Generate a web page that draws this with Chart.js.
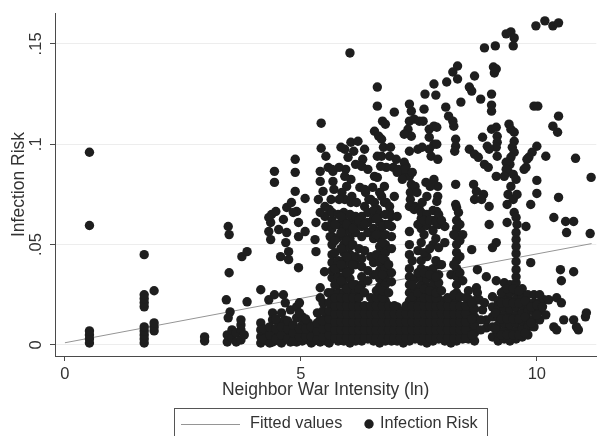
<!DOCTYPE html>
<html>
<head>
<meta charset="utf-8">
<script src="https://cdn.jsdelivr.net/npm/chart.js@4/dist/chart.umd.min.js"></script>
<style>html,body{margin:0;padding:0;background:#fff}canvas{display:block}</style>
</head>
<body>
<canvas id="c" width="601" height="436"></canvas>
<script>
// ---- tick labels ----
const xTicks = [0, 5, 10];
const xTickLabels = ['0', '5', '10'];
const yTicks = [0, 0.05, 0.1, 0.15];
const yTickLabels = ['0', '.05', '.1', '.15'];

// ---- fitted values (read at both ends of the drawn line) ----
const fitX = [0.0, 11.16];
const fitY = [0.0011, 0.0505];

// ---- Infection Risk: individually read points [ln intensity, risk] ----
const loosePoints = [
 [0.52,.001],[0.52,.003],[0.52,.005],[0.52,.007],[0.52,.0595],[0.52,.096],
 [1.68,.001],[1.68,.003],[1.68,.005],[1.68,.007],[1.68,.009],[1.68,.019],[1.68,.021],[1.68,.023],[1.68,.025],[1.68,.045],
 [1.89,.007],[1.89,.009],[1.89,.011],[1.89,.027],
 [2.96,.002],[2.96,.004],
 [3.42,.0225],[3.46,.059],[3.48,.055],[3.48,.036],[3.5,.0165],[3.46,.0135],
 [3.44,.0015],[3.44,.005],[3.54,.0035],[3.54,.0075],[3.63,.0015],[3.63,.006],[3.73,.0025],[3.73,.0075],[3.73,.01],[3.73,.0125],[3.8,.005],
 [3.75,.044],[3.86,.0465],[3.86,.0215],
 [4.32,.0225],[4.44,.025],[4.63,.025],[4.67,.021],[4.78,.0175],[4.95,.0385],[5.5,.0365],[5.58,.026],
 [4.38,.065],[4.36,.061],[4.32,.0565],[4.36,.0525],[4.53,.0575],[4.63,.0625],[4.7,.056],[4.68,.051],[4.74,.0465],[4.74,.0425],[4.57,.044],
 [4.95,.061],[4.95,.054],[5.09,.0565],[4.91,.0665],[5.32,.061],[5.3,.0525],[5.32,.0465],[5.51,.064],[5.53,.059],[5.62,.054],
 [4.44,.0865],[4.44,.081],[4.88,.0925],[4.88,.086],[4.88,.0765],[5.09,.073],[4.47,.0665],[4.7,.0685],[4.8,.071],[4.84,.066],[4.32,.0635],
 [5.41,.0865],[5.41,.0815],[5.47,.0765],[5.53,.094],[5.58,.0885],[5.68,.0865],[5.68,.0815],[5.43,.1105],[5.43,.098],
 [5.37,.0725],[5.51,.069],[5.41,.066],[5.64,.0725],[5.6,.0675],
 [5.93,.0725],[6.06,.071],[6.35,.069],[6.48,.0725],[6.62,.0675],[6.77,.071],[6.88,.066],
 [6.04,.1455],[6.62,.1285],[6.62,.119],[6.98,.116],[6.73,.1115],[6.79,.11],[6.56,.1065],[6.65,.104],[6.71,.1025],[6.75,.0985],[6.71,.094],
 [6.06,.101],[6.21,.1015],[5.93,.0975],[6.35,.0975],[6.12,.0965],[6.0,.0935],[6.31,.0925],[6.42,.0875],[6.16,.09],[5.95,.0875],
 [6.06,.0825],[6.25,.0785],[6.37,.076],[6.52,.0785],[5.85,.0985],[6.29,.089],[5.81,.0885],[5.66,.0875],
 [7.02,.0925],[6.96,.0885],[7.07,.0875],[7.23,.089],[6.81,.0885],
 [6.56,.084],[6.77,.079],[6.71,.074],[6.81,.071],[6.56,.071],[6.35,.0775],[6.44,.0725],
 [5.93,.084],[5.97,.079],[5.87,.076],[5.81,.0725],[5.7,.0775],[6.08,.074],[6.18,.071],
 [6.62,.094],[6.62,.0835],[6.69,.089],[6.88,.094],[6.9,.0985],[6.98,.074],[6.88,.069],[6.67,.076],
 [8.32,.139],[8.22,.136],[8.32,.1325],[8.09,.131],[7.82,.13],[7.86,.1245],[7.63,.125],[7.3,.12],[7.34,.1165],[7.61,.1175],[8.07,.1185],[8.39,.121],
 [8.57,.1285],[8.62,.1265],[8.68,.134],
 [7.3,.1115],[7.4,.1125],[7.51,.1115],[7.59,.1115],[7.27,.1075],[7.34,.104],[7.3,.0965],[7.48,.0975],
 [7.72,.1075],[7.82,.109],[7.72,.1035],[7.82,.1],[7.72,.0975],[7.76,.094],[7.9,.0925],[7.57,.0985],[7.88,.1085],[7.88,.1],[7.19,.105],
 [8.13,.114],[8.22,.1115],[8.24,.109],[8.28,.1025],[8.28,.099],[8.26,.0965],
 [7.17,.085],[7.3,.084],[7.34,.08],[7.32,.076],[7.32,.0725],[7.42,.069],[7.3,.069],
 [7.65,.081],[7.9,.079],[7.9,.074],[8.28,.08],[8.28,.07],
 [8.57,.0975],[8.68,.095],[8.76,.0935],[8.89,.09],[8.97,.0885],[9.14,.084],
 [8.66,.08],[8.72,.0765],[8.68,.0725],[8.87,.075],[8.83,.0725],[8.99,.069],
 [8.3,.0685],[8.34,.066],
 [7.19,.091],[7.21,.0875],[7.15,.0825],[7.36,.086],[7.42,.079],[7.46,.076],[7.4,.0675],[7.51,.0675],[7.57,.071],[7.67,.074],
 [7.74,.079],[7.82,.0825],[7.88,.0715],[7.88,.0665],[7.04,.086],
 [9.98,.159],[10.17,.1615],[10.34,.159],[10.46,.1605],
 [9.35,.155],[9.45,.156],[9.52,.153],[9.5,.149],
 [8.89,.148],[9.12,.149],
 [9.08,.1385],[9.1,.1355],[9.14,.1375],
 [9.04,.125],[9.04,.1195],[9.04,.1165],[8.81,.1225],
 [9.94,.119],[10.02,.119],
 [10.46,.114],[10.34,.109],[10.44,.106],
 [9.41,.11],[9.45,.1075],[9.52,.106],
 [9.04,.1075],[9.14,.1085],[9.16,.104],[9.16,.101],[9.14,.0985],[9.16,.094],
 [8.85,.1035],[8.95,.099],[8.99,.0975],
 [9.52,.1015],[9.48,.0985],[9.52,.096],[9.45,.0935],[9.43,.09],[9.39,.0865],[9.5,.085],[9.56,.0825],[9.45,.079],[9.39,.075],
 [9.5,.0725],[9.58,.075],[9.35,.091],[9.35,.0875],[9.31,.084],[9.37,.07],
 [10.0,.099],[9.9,.096],[9.83,.0935],[9.79,.0925],[9.77,.0885],[10.19,.094],[10.82,.093],[11.15,.0835],
 [10.0,.082],[10.0,.0755],[10.46,.0735],[9.87,.07],[9.73,.0875],
 [10.36,.0635],[10.61,.0615],[10.78,.0615],[10.63,.056],[11.13,.0555],
 [9.52,.066],[9.56,.0635],[9.37,.061],[9.58,.06],[9.77,.059],
 [8.99,.06],[9.14,.051],[9.06,.0485],[8.62,.0475],
 [9.87,.041],[10.5,.0375],[10.78,.0365],[10.52,.032],
 [8.74,.0375],[8.93,.034],[9.14,.032],
 [8.72,.0285],[8.74,.026],[8.78,.0225],[8.89,.021],[8.85,.0175],
 [10.15,.0225],[10.25,.0225],[10.42,.0235],[10.52,.021],
 [10.36,.009],[10.42,.0075],[10.57,.0125],[10.78,.0125],[10.84,.009],[10.88,.0075],[11.03,.014],[11.05,.016],
 [8.93,.0125],[8.93,.0085]
];

// ---- Infection Risk: dense vertical strips (x of strip, risks read down the strip) ----
const stripX = [4.15,4.28,4.40,4.53,4.65,4.78,4.91,5.03,5.16,5.28,5.41,5.53,5.66,5.79,5.91,6.04,6.16,6.29,6.42,6.54,6.67,6.79,6.92,7.04,7.17,7.30,7.42,7.55,7.67,7.80,7.92,8.05,8.18,8.30,8.43,8.55,8.68,8.81,9.06,9.18,9.31,9.43,9.56,9.69,9.81,9.94,10.06,10.19];
const stripY = [
 [.001,.004,.0075,.011,.0275],
 [.002,.006],
 [.0015,.0035,.0075,.0125,.016],
 [.002,.006,.01],
 [.003,.0075,.0125],
 [.0015,.0055],
 [.0015,.0035,.0075,.0135,.019],
 [.002,.006,.01,.014],
 [.0025,.006,.011],
 [.002,.006],
 [.0015,.004,.009,.0125,.0235,.0285],
 [.002,.006,.01,.014],
 [.003,.007,.011,.015,.019,.023,.026,.0335,.037,.041,.045,.05,.054,.058,.062,.066],
 [.002,.006,.01,.014,.018,.022,.026,.03,.034,.038,.042,.0535,.06,.065],
 [.002,.006,.01,.014,.018,.022,.026,.03,.034,.038,.042,.046,.05,.054,.058,.062,.066],
 [.001,.005,.009,.013,.017,.021,.025,.029,.033,.037,.041,.045,.049,.053,.057,.061,.065],
 [.002,.006,.01,.014,.018,.022,.026,.03,.04,.044,.056,.06,.064],
 [.002,.006,.01,.014,.018,.03,.034,.039,.043,.054,.059,.064],
 [.003,.007,.011,.015,.019,.032,.037,.056,.061,.066],
 [.002,.006,.01,.014,.018,.022,.035,.041,.053,.058,.063,.067],
 [.001,.005,.009,.013,.017,.021,.025,.029,.033,.037,.041,.045,.049,.053,.057,.061,.065],
 [.002,.006,.01,.014,.018,.022,.026,.03,.034,.038,.042,.046,.05,.055,.06,.065],
 [.002,.006,.01,.014,.018,.0315,.036,.048,.054,.059,.064],
 [.002,.006,.01,.014,.019,.064],
 [.001,.005,.009,.013,.017],
 [.002,.006,.01,.014,.018,.022,.026,.03,.034,.038,.045,.05,.0565],
 [.003,.007,.011,.015,.019,.023,.028,.033],
 [.002,.006,.01,.014,.018,.022,.026,.03,.034,.038,.042,.051,.058,.063,.066],
 [.001,.005,.009,.013,.017,.021,.025,.029,.033,.037,.044,.0595,.065],
 [.002,.006,.01,.014,.018,.022,.026,.03,.034,.038,.05,.057,.062,.067],
 [.003,.007,.011,.015,.019,.023,.027,.031,.035,.04,.0485,.06,.065],
 [.002,.006,.01,.014,.018,.022,.051,.059],
 [.001,.005,.009,.013,.017,.021,.035],
 [.002,.006,.01,.014,.018,.022,.026,.03,.034,.038,.042,.046,.05,.054,.058,.062],
 [.003,.007,.011,.015,.019,.032,.055],
 [.003,.007,.011,.015,.019,.023,.027],
 [.002,.006,.01,.014,.018,.022],
 [.0075,.0125],
 [.004,.009,.014,.019,.024],
 [.002,.006,.01,.014,.018,.022],
 [.003,.007,.011,.015,.019,.023,.027,.031],
 [.002,.006,.01,.014,.018,.022,.026,.03],
 [.003,.007,.011,.015,.019,.023,.027,.031,.034,.0375,.0415,.0455,.049,.0525,.056],
 [.004,.008,.012,.016,.02,.024,.028],
 [.005,.009,.013,.017,.021,.025],
 [.009,.013,.017,.021,.025],
 [.0125,.017,.021,.025],
 [.015]
];

// ---- Infection Risk: in-between strips of the dense band ----
const fillX = [4.22,4.34,4.47,4.59,4.72,4.84,4.97,5.10,5.22,5.35,5.47,5.60,5.72,5.85,5.97,6.10,6.23,6.35,6.48,6.60,6.73,6.86,6.98,7.11,7.23,7.36,7.48,7.61,7.73,7.86,7.98,8.11,8.24,8.37,8.49,8.62,9.12,9.25,9.37,9.50,9.62,9.75,9.88,10.00,10.12];
const fillY = [
 [.003,.008],
 [.001,.005,.009],
 [.003,.008,.013],
 [.001,.005,.009,.016],
 [.003,.008,.012],
 [.002,.006,.01],
 [.004,.008,.016,.021],
 [.004,.008,.013],
 [.001,.004,.009],
 [.003,.007,.011,.016],
 [.004,.008,.012,.017,.021],
 [.001,.005,.009,.013,.017,.021],
 [.0035,.0075,.0115,.0155,.0195,.0235,.03,.038,.046,.052,.06],
 [.0035,.0075,.0115,.0155,.0195,.0235,.032,.04,.048,.056,.064],
 [.0035,.0075,.0115,.0155,.0195,.0235,.028,.036,.044,.052,.06],
 [.0035,.0075,.0115,.0155,.0195,.0235,.03,.04,.05,.058],
 [.0035,.0075,.0115,.0155,.0195,.0235,.028,.048,.062],
 [.0035,.0075,.0115,.0155,.0195,.026,.047,.06],
 [.0035,.0075,.0115,.0155,.0195,.0235,.044],
 [.0035,.0075,.0115,.0155,.0195,.0235,.027,.035,.045,.055,.063],
 [.0035,.0075,.0115,.0155,.0195,.0235,.027,.035,.043,.051,.059],
 [.0035,.0075,.0115,.0155,.0195,.026,.04,.06],
 [.0035,.0075,.0115,.0155,.0195],
 [.0035,.0075,.0115,.0155],
 [.0035,.0075,.0115,.0155,.0195],
 [.0035,.0075,.0115,.0155,.0195,.024,.03,.042],
 [.0035,.0075,.0115,.0155,.0195,.026,.036,.047,.06],
 [.0035,.0075,.0115,.0155,.0195,.0235,.028,.036,.046,.055,.062],
 [.0035,.0075,.0115,.0155,.0195,.0235,.027,.035,.048,.062],
 [.0035,.0075,.0115,.0155,.0195,.0235,.026,.034,.042,.053,.061],
 [.0035,.0075,.0115,.0155,.0195,.027,.04,.062],
 [.0035,.0075,.0115,.0155,.0195,.0235],
 [.0035,.0075,.0115,.0155,.0195,.025,.04,.055],
 [.0035,.0075,.0115,.0155,.0195,.024,.036,.044,.052,.06],
 [.0035,.0075,.0115,.0155,.0195,.0235],
 [.005,.013,.021],
 [.008,.016],
 [.005,.013,.021,.026],
 [.005,.013,.021,.028],
 [.005,.013,.021,.028],
 [.005,.013,.021,.027],
 [.006,.014,.022],
 [.011,.019],
 [.015,.02],
 [.019]
];

// ---- build datasets from the arrays ----
const riskPoints = loosePoints.map(p => ({x: p[0], y: p[1]}));
stripX.forEach((x, i) => stripY[i].forEach(y => riskPoints.push({x: x, y: y})));
fillX.forEach((x, i) => fillY[i].forEach(y => riskPoints.push({x: x, y: y})));
const fitPoints = fitX.map((x, i) => ({x: x, y: fitY[i]}));

const FONT = '"Liberation Sans", Arial, Helvetica, sans-serif';
const TEXT = '#333333';
const AXIS = '#4a4a4a';
Chart.defaults.font.family = FONT;
Chart.defaults.font.size = 16;
Chart.defaults.color = TEXT;

const boxedLegend = {
  id: 'boxedLegend',
  afterDraw(chart) {
    const c = chart.ctx;
    const ds = chart.data.datasets;
    c.save();
    c.strokeStyle = '#555';
    c.lineWidth = 1;
    c.strokeRect(174.5, 408.5, 313, 40);
    c.strokeStyle = ds[0].borderColor;
    c.lineWidth = ds[0].borderWidth;
    c.beginPath(); c.moveTo(181, 424.5); c.lineTo(240, 424.5); c.stroke();
    c.font = '16.3px ' + FONT;
    c.textBaseline = 'middle';
    c.fillStyle = TEXT;
    c.fillText(ds[0].label, 250, 424);
    c.fillStyle = ds[1].backgroundColor;
    c.beginPath(); c.arc(369, 424, ds[1].pointRadius, 0, Math.PI * 2); c.fill();
    c.fillStyle = TEXT;
    c.fillText(ds[1].label, 380, 424);
    c.restore();
  }
};

new Chart(document.getElementById('c'), {
  type: 'scatter',
  data: {
    datasets: [
      { label: 'Fitted values', data: fitPoints, showLine: true, borderColor: '#959595', borderWidth: 1,
        pointRadius: 0, fill: false, order: 1 },
      { label: 'Infection Risk', data: riskPoints, backgroundColor: '#1e1e1e', borderColor: '#1e1e1e',
        borderWidth: 0, pointRadius: 4.7, order: 0 }
    ]
  },
  options: {
    responsive: false,
    animation: false,
    devicePixelRatio: 1,
    layout: { padding: { top: 13, left: 0, right: 0, bottom: 0 } },
    plugins: { legend: { display: false }, tooltip: { enabled: false } },
    scales: {
      x: {
        type: 'linear', min: -0.21, max: 11.26,
        afterBuildTicks: s => { s.ticks = xTicks.map(v => ({ value: v })); },
        afterFit: s => { s.height = 80; },
        ticks: { callback: (v, i) => xTickLabels[i], padding: 4, color: TEXT, font: { size: 16.5 }, maxRotation: 0 },
        grid: { drawOnChartArea: false, drawTicks: true, tickLength: 5, tickColor: AXIS, tickWidth: 1 },
        border: { display: true, color: AXIS, width: 1 },
        title: { display: true, text: 'Neighbor War Intensity (ln)', color: TEXT, font: { size: 17.5 }, padding: { top: 0, bottom: 35 } }
      },
      y: {
        type: 'linear', min: -0.0055, max: 0.1654,
        afterBuildTicks: s => { s.ticks = yTicks.map(v => ({ value: v })); },
        afterFit: s => { s.width = 55; },
        ticks: { callback: (v, i) => yTickLabels[i], minRotation: 90, maxRotation: 90, crossAlign: 'center', padding: 2, color: TEXT, font: { size: 16.5 } },
        grid: { color: '#ededed', lineWidth: 1, drawTicks: true, tickLength: 5, tickColor: AXIS, tickWidth: 1 },
        border: { display: true, color: AXIS, width: 1 },
        title: { display: true, text: 'Infection Risk', color: TEXT, font: { size: 17.5 }, padding: { top: 8.5, bottom: 0 } }
      }
    }
  },
  plugins: [boxedLegend]
});
</script>
</body>
</html>
